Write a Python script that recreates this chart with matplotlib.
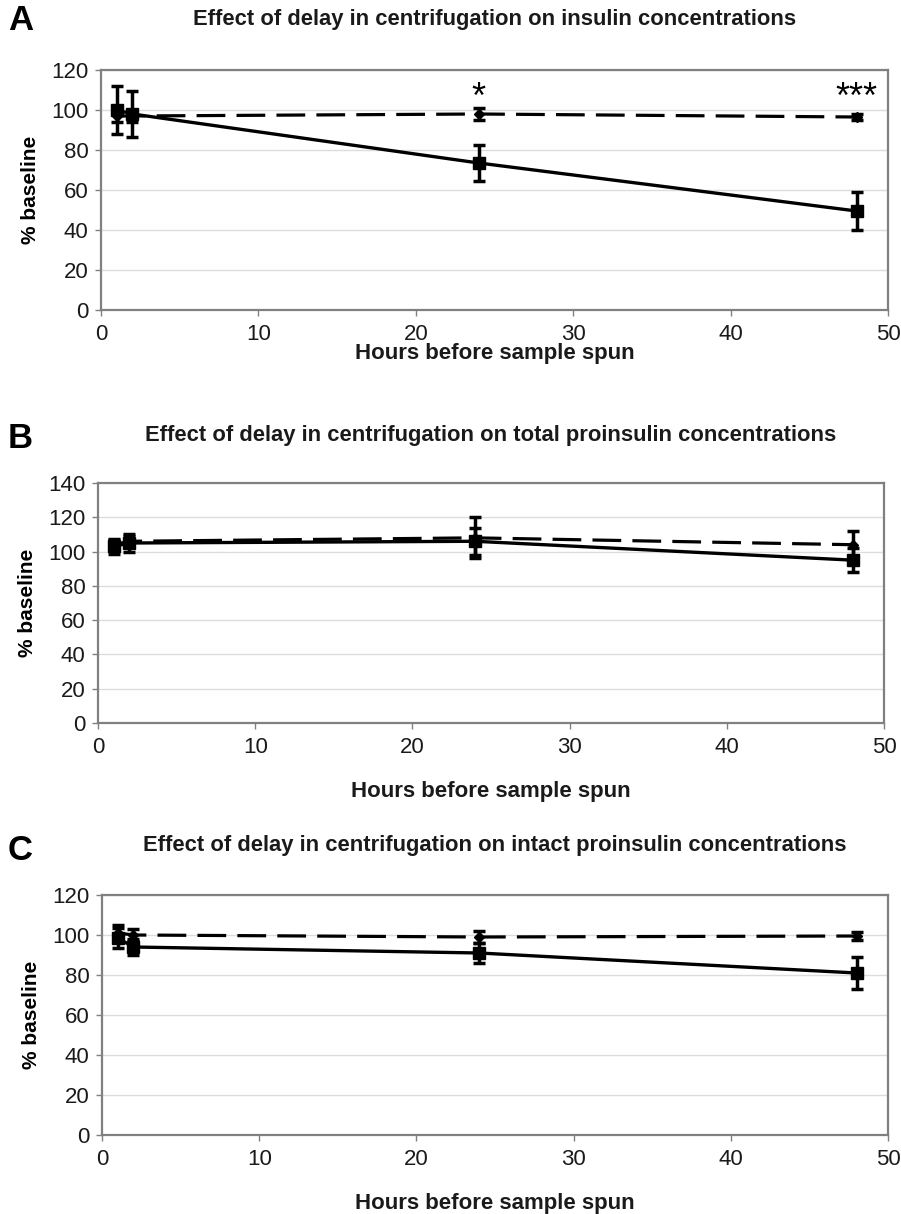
import numpy as np
import matplotlib.pyplot as plt

plt.rcParams['font.family'] = ['Liberation Sans', 'DejaVu Sans']

## data
hours = [1, 2, 24, 48]

# A: insulin
a_solid = [100, 98, 73.5, 49.5]
a_solid_err = [12, 11.5, 9, 9.5]
a_dash = [97, 97, 98, 96.5]
a_dash_err = [3, 3, 3, 1.5]

# B: total proinsulin
b_solid = [103, 105, 106, 95]
b_solid_err = [4.5, 5, 8, 7]
b_dash = [104, 106, 108, 104]
b_dash_err = [3, 3, 12, 8]

# C: intact proinsulin
c_solid = [98.5, 94, 91, 81]
c_solid_err = [5, 4, 5, 8]
c_dash = [101, 100, 99, 99.5]
c_dash_err = [4, 3, 3, 2]

titles = ['Effect of delay in centrifugation on insulin concentrations',
          'Effect of delay in centrifugation on total proinsulin concentrations',
          'Effect of delay in centrifugation on intact proinsulin concentrations']
letters = ['A', 'B', 'C']
ymaxes = [120, 140, 120]

W, H = 901, 1214
fig = plt.figure(figsize=(W/100, H/100), dpi=100)

# axes boxes in pixels: left, top, right, bottom
boxes = [(101, 70, 888, 310), (98, 483, 884, 723), (102, 895, 888, 1135)]
title_y = [20, 435, 846]
letter_y = [20, 438, 850]
xlabel_y = [354, 791, 1203]

panels = [(a_solid, a_solid_err, a_dash, a_dash_err),
          (b_solid, b_solid_err, b_dash, b_dash_err),
          (c_solid, c_solid_err, c_dash, c_dash_err)]

for i, (sol, sol_e, das, das_e) in enumerate(panels):
    l, t, r, b = boxes[i]
    ax = fig.add_axes([l/W, 1-b/H, (r-l)/W, (b-t)/H])
    ax.set_xlim(0, 50)
    ax.set_ylim(0, ymaxes[i])
    ax.set_xticks(range(0, 51, 10))
    ax.set_yticks(range(0, ymaxes[i]+1, 20))
    ax.yaxis.grid(True, color='#dcdcdc', lw=1)
    ax.set_axisbelow(True)
    for s in ax.spines.values():
        s.set_color('#808080')
        s.set_linewidth(1.6)
    ax.tick_params(colors='#808080', labelcolor='#1a1a1a', labelsize=16,
                   length=4, width=1)
    ax.tick_params(axis='x', pad=6)
    ax.tick_params(axis='y', pad=5)

    ax.errorbar(hours, das, yerr=das_e, color='black', lw=2.3,
                dashes=(9, 3.5), marker='D', ms=5, capsize=4, capthick=2.5,
                elinewidth=2.5)
    ax.errorbar(hours, sol, yerr=sol_e, color='black', lw=2.4,
                marker='s', ms=8, capsize=4, capthick=2.5, elinewidth=2.5)

    ax.set_ylabel('% baseline', fontsize=15, fontweight='bold', labelpad=8)

    fig.text((l+r)/2/W, 1-title_y[i]/H, titles[i], ha='center', va='center',
             fontsize=15.8, fontweight='bold', color='#1a1a1a')
    fig.text(8/W, 1-letter_y[i]/H, letters[i], ha='left', va='center',
             fontsize=25, fontweight='bold')
    fig.text((l+r)/2/W, 1-xlabel_y[i]/H, 'Hours before sample spun',
             ha='center', va='center', fontsize=16, fontweight='bold',
             color='#1a1a1a')

    if i == 0:
        ax.text(24, 97, '*', ha='center', va='bottom', fontsize=26)
        ax.text(48, 97, '***', ha='center', va='bottom', fontsize=26)

fig.savefig('out.png', dpi=100)
